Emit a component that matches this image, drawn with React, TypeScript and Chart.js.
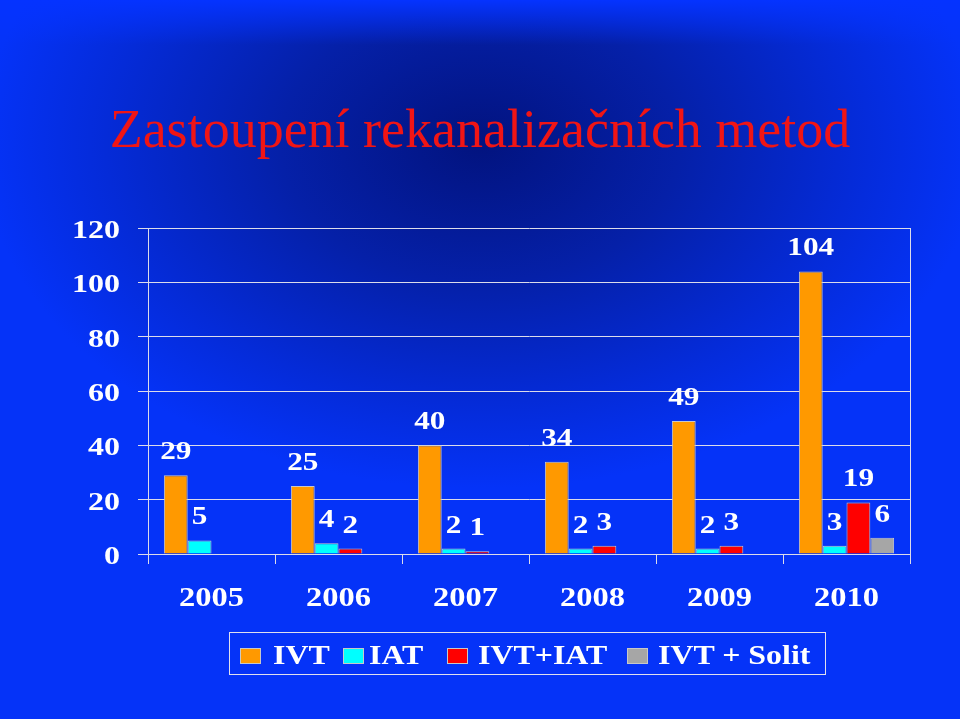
import React, { useEffect, useRef } from "react";
import { Chart, registerables } from "chart.js";
Chart.register(...registerables);

const TITLE = "Zastoupení rekanalizačních metod";
const YEARS = ["2005", "2006", "2007", "2008", "2009", "2010"];
const IVT = [29, 25, 40, 34, 49, 104];
const IAT = [5, 4, 2, 2, 2, 3];
const IVT_IAT = [0, 2, 1, 3, 3, 19];
const IVT_SOLIT = [0, 0, 0, 0, 0, 6];
const SERIES_NAMES = ["IVT", "IAT", "IVT+IAT", "IVT + Solit"];
const SERIES_COLORS = ["#ff9900", "#00ffff", "#ff0000", "#a6a6a6"];
const Y_MIN = 0;
const Y_MAX = 120;
const Y_STEP = 20;

const SERIES = [IVT, IAT, IVT_IAT, IVT_SOLIT];
const FONT = "'Liberation Serif', 'Times New Roman', serif";
const LINE = "#dcdcea";
// legend item layout (left offsets of swatch and text inside the page)
const LEGEND_SWATCH_X = [240, 343, 447, 627];
const LEGEND_TEXT_X = [273, 369, 478, 658];

function stretchedText(ctx: any, text: string, x: number, y: number, sx: number) {
  ctx.save();
  ctx.translate(x, y);
  ctx.scale(sx, 1);
  ctx.fillText(text, 0, 0);
  ctx.restore();
}

const textPlugin = {
  id: "stretchedText",
  afterDraw(chart: any) {
    const { ctx, chartArea } = chart;
    ctx.save();
    ctx.fillStyle = "#ffffff";
    // y tick labels
    const ys = chart.scales.y;
    ctx.font = `bold 25px ${FONT}`;
    ctx.textAlign = "right";
    ctx.textBaseline = "alphabetic";
    ys.ticks.forEach((t: any, i: number) => {
      const py = ys.getPixelForTick(i);
      stretchedText(ctx, String(t.label), chartArea.left - 28, py + 10, 1.28);
    });
    // x tick labels
    const xs = chart.scales.x;
    ctx.font = `bold 28px ${FONT}`;
    ctx.textAlign = "center";
    xs.ticks.forEach((t: any, i: number) => {
      const px = xs.getPixelForTick(i);
      stretchedText(ctx, String(chart.data.labels[i]), px, chartArea.bottom + 52, 1.16);
    });
    // value labels
    ctx.font = `bold 25px ${FONT}`;
    chart.data.datasets.forEach((ds: any, i: number) => {
      const meta = chart.getDatasetMeta(i);
      meta.data.forEach((bar: any, j: number) => {
        const v = ds.data[j];
        if (!v) return;
        stretchedText(ctx, String(v), bar.x, bar.y - 16, 1.25);
      });
    });
    // right border of plot
    ctx.strokeStyle = LINE;
    ctx.lineWidth = 1;
    ctx.beginPath();
    ctx.moveTo(Math.round(chartArea.right) + 0.5, chartArea.top);
    ctx.lineTo(Math.round(chartArea.right) + 0.5, chartArea.bottom + 10);
    ctx.stroke();
    ctx.restore();
  },
};

export default function App() {
  const ref = useRef<HTMLCanvasElement>(null);
  useEffect(() => {
    if (!ref.current) return;
    const chart = new Chart(ref.current, {
      type: "bar",
      data: {
        labels: YEARS,
        datasets: SERIES.map((d, i) => ({
          label: SERIES_NAMES[i],
          data: d,
          backgroundColor: SERIES_COLORS[i],
          borderColor: "#c8c8c8",
          borderWidth: (c: any) => (c.raw ? 1 : 0),
          categoryPercentage: 0.75,
          barPercentage: 1,
        })),
      },
      options: {
        animation: false,
        responsive: false,
        maintainAspectRatio: false,
        layout: { padding: { left: 0, top: 228, right: 50, bottom: 0 } },
        plugins: { legend: { display: false }, tooltip: { enabled: false }, title: { display: false } },
        scales: {
          x: {
            grid: { offset: true, drawOnChartArea: false, color: LINE, tickLength: 10 },
            border: { color: LINE, width: 1 },
            ticks: { display: false },
            afterFit: (s: any) => { s.height = 165; },
          },
          y: {
            min: Y_MIN,
            max: Y_MAX,
            grid: { color: LINE, tickLength: 10 },
            border: { color: LINE, width: 1 },
            ticks: { stepSize: Y_STEP, display: false },
            afterFit: (s: any) => { s.width = 148; },
          },
        },
      },
      plugins: [textPlugin],
    } as any);
    return () => chart.destroy();
  }, []);

  return (
    <div
      style={{
        position: "fixed",
        left: 0,
        top: 0,
        width: 960,
        height: 719,
        overflow: "hidden",
        background:
          "linear-gradient(to bottom, #0533ff 0px, rgba(5,51,255,0) 45px), radial-gradient(ellipse 52% 48% at 50% 20%, #02137f 0%, #0520a8 40%, #052bd8 75%, #0533f8 100%)",
      }}
    >
      <div
        style={{
          position: "absolute",
          left: 0,
          top: 102,
          width: 960,
          textAlign: "center",
          fontFamily: FONT,
          fontSize: 54,
          lineHeight: "54px",
          color: "#f01515",
          whiteSpace: "nowrap",
        }}
      >
        {TITLE}
      </div>
      <canvas ref={ref} width={960} height={719} style={{ position: "absolute", left: 0, top: 0 }} />
      <div
        style={{
          position: "absolute",
          left: 229,
          top: 632,
          width: 597,
          height: 43,
          boxSizing: "border-box",
          border: "1.5px solid #e0e0ee",
        }}
      />
      {SERIES_NAMES.map((n, i) => (
        <React.Fragment key={n}>
          <span
            style={{
              position: "absolute",
              left: LEGEND_SWATCH_X[i],
              top: 648,
              width: 21,
              height: 16,
              boxSizing: "border-box",
              background: SERIES_COLORS[i],
              border: "1px solid #c8c8c8",
            }}
          />
          <span
            style={{
              position: "absolute",
              left: LEGEND_TEXT_X[i],
              top: 639,
              fontFamily: FONT,
              fontWeight: "bold",
              fontSize: 28,
              lineHeight: "32px",
              color: "#ffffff",
              whiteSpace: "nowrap",
              transform: "scaleX(1.14)",
              transformOrigin: "left center",
            }}
          >
            {n}
          </span>
        </React.Fragment>
      ))}
    </div>
  );
}
